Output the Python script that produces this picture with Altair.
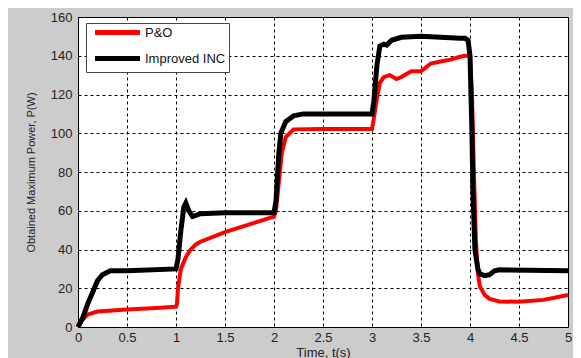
import altair as alt
import pandas as pd

# P&O (red)
t_po = [0, 0.05, 0.1, 0.2, 0.5, 0.8, 1.0, 1.01, 1.02, 1.05, 1.1, 1.15, 1.2, 1.25, 1.5, 1.75, 2.0,
        2.02, 2.05, 2.08, 2.12, 2.2, 2.5, 3.0, 3.01, 3.05, 3.08, 3.12, 3.18, 3.25, 3.3, 3.4, 3.5,
        3.6, 3.7, 3.8, 3.9, 3.95, 4.0, 4.02, 4.04, 4.06, 4.08, 4.1, 4.15, 4.2, 4.3, 4.5, 4.75, 5.0]
p_po = [0, 4, 6.5, 8, 9, 9.8, 10.5, 12, 20, 30, 36, 40, 42.5, 44, 49, 53, 57,
        60, 75, 90, 98, 102, 102.2, 102.2, 105, 118, 126, 129, 130, 128, 129, 132, 132,
        136, 137, 138, 139.5, 140, 140, 120, 80, 45, 28, 21, 16.5, 14.5, 13.2, 13, 14, 16.5]

# Improved INC (black)
t_inc = [0, 0.05, 0.1, 0.2, 0.25, 0.33, 0.5, 1.0, 1.02, 1.05, 1.08, 1.1, 1.13, 1.17, 1.25, 1.5, 2.0,
         2.02, 2.05, 2.07, 2.12, 2.2, 2.3, 3.0, 3.02, 3.05, 3.08, 3.12, 3.15, 3.2, 3.3, 3.5, 3.9,
         3.95, 3.98, 4.0, 4.02, 4.03, 4.05, 4.08, 4.1, 4.15, 4.2, 4.25, 4.3, 5.0]
p_inc = [0, 5, 12, 24, 27, 29, 29, 30, 35, 50, 62, 64, 60, 57, 58.5, 59, 59,
         65, 90, 100, 106, 109, 110, 110, 117, 135, 145, 146, 145.5, 148, 149.5, 150, 149,
         149, 148, 140, 100, 70, 40, 30, 27.5, 26.5, 27, 29, 29.5, 29]

series = ["P&O", "Improved INC"]
colors = ["#ff0000", "#000000"]

df_po = pd.DataFrame({"t": t_po, "p": p_po, "series": series[0]})
df_inc = pd.DataFrame({"t": t_inc, "p": p_inc, "series": series[1]})

font = "Liberation Sans"

x = alt.X("t:Q", title="Time, t(s)",
          scale=alt.Scale(domain=[0, 5], nice=False),
          axis=alt.Axis(values=[0, 0.5, 1, 1.5, 2, 2.5, 3, 3.5, 4, 4.5, 5], format="~g"))
y = alt.Y("p:Q", title="Obtained Maximum Power, P(W)",
          scale=alt.Scale(domain=[0, 160], nice=False),
          axis=alt.Axis(values=list(range(0, 161, 20))))
color = alt.Color("series:N", title=None,
                  scale=alt.Scale(domain=series, range=colors),
                  legend=alt.Legend(orient="none", legendX=8, legendY=6,
                                    symbolType="M-1,0H10.25", symbolSize=64,
                                    symbolStrokeWidth=5, labelFontSize=13,
                                    labelFont=font, labelColor="#111",
                                    labelExpr="datum.label + '    '",
                                    fillColor="white", strokeColor="#444",
                                    padding=3, rowPadding=5, labelOffset=39.5,
                                    symbolOffset=3.5))

red = alt.Chart(df_po).mark_line(strokeWidth=4, strokeCap="butt").encode(
    x=x, y=y, color=color, order="t:Q")
black = alt.Chart(df_inc).mark_line(strokeWidth=5, strokeCap="butt").encode(
    x=x, y=y, color=color, order="t:Q")

chart = alt.layer(red, black).properties(
    width=490, height=310,
    background="#cccccc",
    padding={"left": 70, "top": 9, "right": 5, "bottom": 31},
    autosize=alt.AutoSizeParams(type="none"),
).configure_view(
    fill="white", stroke="black", strokeWidth=1
).configure_axis(
    grid=True, gridColor="black", gridDash=[3, 3], gridOpacity=1, gridWidth=1,
    domain=False, ticks=False, labelFont=font, labelFontSize=13,
    labelColor="#222", titleFont=font, titleFontWeight="normal", titleColor="#222",
).configure_axisX(
    labelPadding=4, titleFontSize=13, titlePadding=2, labelFlush=False
).configure_axisY(
    labelPadding=6, titleFontSize=11, titlePadding=14
)

chart.save("out.html", embed_options={"renderer": "svg", "actions": False})
